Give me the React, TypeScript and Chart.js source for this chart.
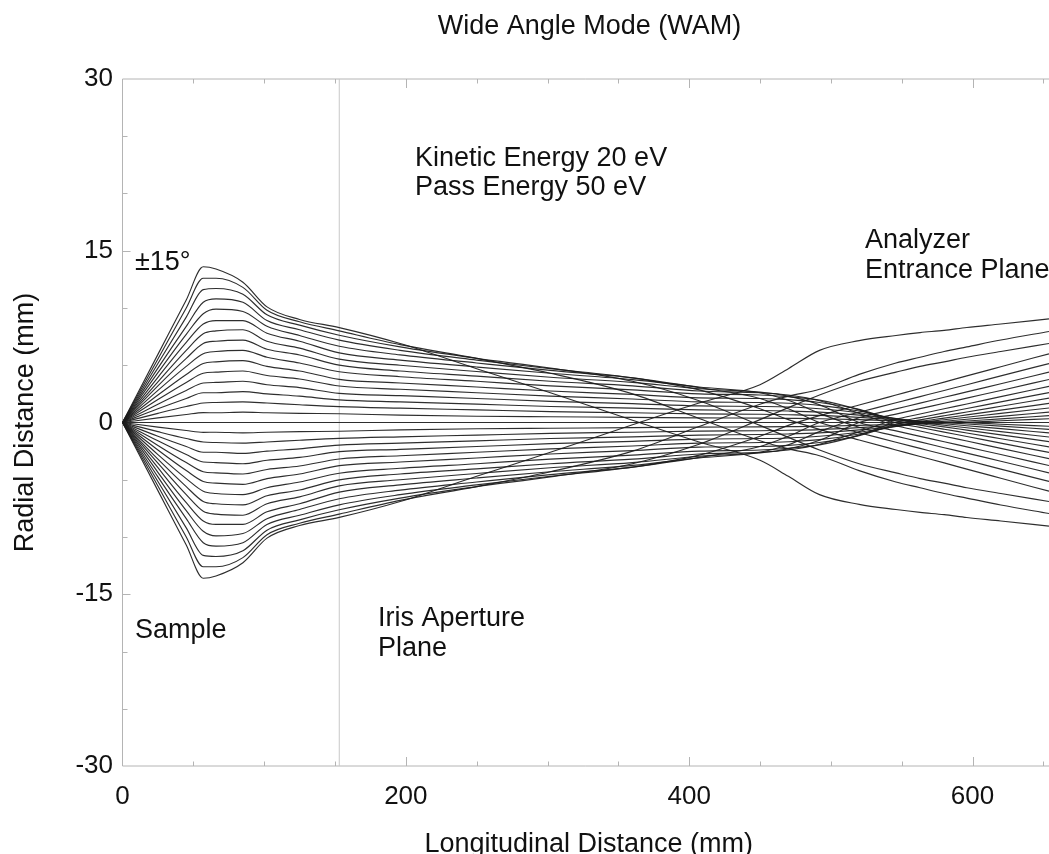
import React, { useEffect, useRef } from "react";
import { Chart, registerables } from "chart.js";

Chart.register(...registerables);

// ---- data (mm) ----
const stationsMm = [0, 25, 45, 57, 66, 85, 102, 125, 153, 196, 250, 302, 360, 407, 450, 470, 492, 520, 546, 563, 580, 596, 620, 654];

const up15 = [0, 5.95, 10.7, 13.6, 13.4, 12.25, 10.1, 9.0, 8.29, 6.9, 4.7, 2.6, 0.2, -1.7, -3.3, -4.7, -6.3, -7.15, -7.6, -7.85, -8.05, -8.3, -8.6, -9.05];
const up14 = [0, 5.55, 10.0, 12.6, 12.6, 11.8, 9.8, 8.8, 8.0, 6.8, 5.6, 4.3, 2.5, 0.35, -1.6, -2.3, -2.9, -4.2, -5.2, -5.7, -6.2, -6.6, -7.2, -7.95];
const up13 = [0, 5.15, 9.2, 11.6, 11.7, 11.2, 9.4, 8.5, 7.62, 6.6, 5.6, 4.75, 3.6, 1.9, -0.25, -1.3, -2.4, -3.6, -4.4, -4.9, -5.3, -5.7, -6.2, -6.9];
const up12 = [0, 4.75, 8.4, 10.5, 10.8, 10.5, 8.9, 8.1, 7.19, 6.3, 5.45, 4.7, 3.9, 2.85, 1.2, 0.25, -0.6, -1.53, -2.4, -2.97, -3.53, -4.07, -4.87, -6.0];
const up11 = [0, 4.35, 7.7, 9.5, 9.9, 9.7, 8.4, 7.6, 6.66, 5.9, 5.2, 4.55, 3.9, 3.05, 2.1, 1.2, 0, -0.89, -1.72, -2.26, -2.8, -3.3, -4.07, -5.15];
const up10 = [0, 3.95, 7.0, 8.6, 8.9, 8.9, 7.8, 7.1, 6.08, 5.45, 4.85, 4.3, 3.75, 3.1, 2.6, 1.95, 0.8, -0.42, -1.19, -1.69, -2.2, -2.67, -3.39, -4.4];
const up9 = [0, 3.55, 6.3, 7.75, 8.0, 8.1, 7.1, 6.5, 5.53, 5.0, 4.45, 3.95, 3.5, 2.95, 2.65, 2.3, 1.55, 0, -0.73, -1.21, -1.68, -2.13, -2.8, -3.76];
const up8 = [0, 3.2, 5.6, 6.9, 7.1, 7.2, 6.4, 5.9, 5.01, 4.5, 4.05, 3.6, 3.2, 2.75, 2.6, 2.4, 1.9, 0.8, -0.29, -0.74, -1.2, -1.62, -2.26, -3.16];
const up7 = [0, 2.8, 4.9, 6.0, 6.2, 6.3, 5.7, 5.2, 4.43, 4.0, 3.6, 3.2, 2.85, 2.5, 2.4, 2.25, 1.95, 1.1, -0.02, -0.43, -0.84, -1.22, -1.8, -2.61];
const up6 = [0, 2.4, 4.2, 5.15, 5.3, 5.4, 4.9, 4.5, 3.77, 3.45, 3.1, 2.75, 2.45, 2.15, 2.1, 2.0, 1.75, 1.15, 0.15, -0.23, -0.59, -0.92, -1.42, -2.13];
const up5 = [0, 2.0, 3.5, 4.3, 4.4, 4.5, 4.1, 3.8, 3.19, 2.9, 2.6, 2.3, 2.05, 1.8, 1.75, 1.68, 1.5, 1.0, 0.3, -0.09, -0.38, -0.66, -1.08, -1.67];
const up4 = [0, 1.6, 2.8, 3.45, 3.5, 3.6, 3.3, 3.05, 2.55, 2.35, 2.1, 1.85, 1.65, 1.45, 1.4, 1.35, 1.2, 0.85, 0.35, 0, -0.24, -0.46, -0.8, -1.27];
const up3 = [0, 1.2, 2.1, 2.6, 2.6, 2.7, 2.5, 2.3, 1.97, 1.8, 1.6, 1.4, 1.25, 1.1, 1.05, 1.0, 0.9, 0.65, 0.35, 0.1, -0.11, -0.28, -0.54, -0.9];
const up2 = [0, 0.8, 1.4, 1.7, 1.75, 1.8, 1.7, 1.55, 1.39, 1.25, 1.1, 0.95, 0.85, 0.75, 0.72, 0.68, 0.62, 0.45, 0.25, 0.12, 0, -0.13, -0.32, -0.6];
const up1 = [0, 0.4, 0.7, 0.86, 0.85, 0.9, 0.85, 0.8, 0.76, 0.65, 0.55, 0.5, 0.45, 0.4, 0.38, 0.36, 0.33, 0.25, 0.15, 0.09, 0.04, -0.02, -0.15, -0.33];
const axis0 = [0, 0, 0, 0, 0, 0, 0, 0, 0, 0, 0, 0, 0, 0, 0, 0, 0, 0, 0, 0, 0, 0, 0, 0];
const down1 = [0, -0.4, -0.7, -0.86, -0.85, -0.9, -0.85, -0.8, -0.76, -0.65, -0.55, -0.5, -0.45, -0.4, -0.38, -0.36, -0.33, -0.25, -0.15, -0.09, -0.04, 0.02, 0.15, 0.33];
const down2 = [0, -0.8, -1.4, -1.7, -1.75, -1.8, -1.7, -1.55, -1.39, -1.25, -1.1, -0.95, -0.85, -0.75, -0.72, -0.68, -0.62, -0.45, -0.25, -0.12, 0, 0.13, 0.32, 0.6];
const down3 = [0, -1.2, -2.1, -2.6, -2.6, -2.7, -2.5, -2.3, -1.97, -1.8, -1.6, -1.4, -1.25, -1.1, -1.05, -1.0, -0.9, -0.65, -0.35, -0.1, 0.11, 0.28, 0.54, 0.9];
const down4 = [0, -1.6, -2.8, -3.45, -3.5, -3.6, -3.3, -3.05, -2.55, -2.35, -2.1, -1.85, -1.65, -1.45, -1.4, -1.35, -1.2, -0.85, -0.35, 0, 0.24, 0.46, 0.8, 1.27];
const down5 = [0, -2.0, -3.5, -4.3, -4.4, -4.5, -4.1, -3.8, -3.19, -2.9, -2.6, -2.3, -2.05, -1.8, -1.75, -1.68, -1.5, -1.0, -0.3, 0.09, 0.38, 0.66, 1.08, 1.67];
const down6 = [0, -2.4, -4.2, -5.15, -5.3, -5.4, -4.9, -4.5, -3.77, -3.45, -3.1, -2.75, -2.45, -2.15, -2.1, -2.0, -1.75, -1.15, -0.15, 0.23, 0.59, 0.92, 1.42, 2.13];
const down7 = [0, -2.8, -4.9, -6.0, -6.2, -6.3, -5.7, -5.2, -4.43, -4.0, -3.6, -3.2, -2.85, -2.5, -2.4, -2.25, -1.95, -1.1, 0.02, 0.43, 0.84, 1.22, 1.8, 2.61];
const down8 = [0, -3.2, -5.6, -6.9, -7.1, -7.2, -6.4, -5.9, -5.01, -4.5, -4.05, -3.6, -3.2, -2.75, -2.6, -2.4, -1.9, -0.8, 0.29, 0.74, 1.2, 1.62, 2.26, 3.16];
const down9 = [0, -3.55, -6.3, -7.75, -8.0, -8.1, -7.1, -6.5, -5.53, -5.0, -4.45, -3.95, -3.5, -2.95, -2.65, -2.3, -1.55, 0, 0.73, 1.21, 1.68, 2.13, 2.8, 3.76];
const down10 = [0, -3.95, -7.0, -8.6, -8.9, -8.9, -7.8, -7.1, -6.08, -5.45, -4.85, -4.3, -3.75, -3.1, -2.6, -1.95, -0.8, 0.42, 1.19, 1.69, 2.2, 2.67, 3.39, 4.4];
const down11 = [0, -4.35, -7.7, -9.5, -9.9, -9.7, -8.4, -7.6, -6.66, -5.9, -5.2, -4.55, -3.9, -3.05, -2.1, -1.2, 0, 0.89, 1.72, 2.26, 2.8, 3.3, 4.07, 5.15];
const down12 = [0, -4.75, -8.4, -10.5, -10.8, -10.5, -8.9, -8.1, -7.19, -6.3, -5.45, -4.7, -3.9, -2.85, -1.2, -0.25, 0.6, 1.53, 2.4, 2.97, 3.53, 4.07, 4.87, 6.0];
const down13 = [0, -5.15, -9.2, -11.6, -11.7, -11.2, -9.4, -8.5, -7.62, -6.6, -5.6, -4.75, -3.6, -1.9, 0.25, 1.3, 2.4, 3.6, 4.4, 4.9, 5.3, 5.7, 6.2, 6.9];
const down14 = [0, -5.55, -10.0, -12.6, -12.6, -11.8, -9.8, -8.8, -8.0, -6.8, -5.6, -4.3, -2.5, -0.35, 1.6, 2.3, 2.9, 4.2, 5.2, 5.7, 6.2, 6.6, 7.2, 7.95];
const down15 = [0, -5.95, -10.7, -13.6, -13.4, -12.25, -10.1, -9.0, -8.29, -6.9, -4.7, -2.6, -0.2, 1.7, 3.3, 4.7, 6.3, 7.15, 7.6, 7.85, 8.05, 8.3, 8.6, 9.05];

const trajectories = [
  up15, up14, up13, up12, up11, up10, up9, up8, up7, up6, up5, up4, up3, up2, up1,
  axis0,
  down1, down2, down3, down4, down5, down6, down7, down8, down9, down10, down11, down12, down13, down14, down15,
];

const irisPlaneMm = 153;
const xRange = [0, 654];
const yRange = [-30, 30];
const xMajorTicks = [0, 200, 400, 600];
const xMinorStep = 50;
const yMajorTicks = [-30, -15, 0, 15, 30];
const yMinorStep = 5;

const chartTitle = "Wide Angle Mode (WAM)";
const xAxisTitle = "Longitudinal Distance (mm)";
const yAxisTitle = "Radial Distance (mm)";

const annotations = [
  { text: "±15°", x: 135, y: 269.5 },
  { text: "Kinetic Energy 20 eV", x: 415, y: 166 },
  { text: "Pass Energy 50 eV", x: 415, y: 195 },
  { text: "Analyzer", x: 865, y: 248 },
  { text: "Entrance Plane", x: 865, y: 278 },
  { text: "Sample", x: 135, y: 638 },
  { text: "Iris Aperture", x: 378, y: 626 },
  { text: "Plane", x: 378, y: 656 },
];

const FONT = '"Liberation Sans", Arial, Helvetica, sans-serif';
const AXIS_COLOR = "#b4b4b4";

const decorPlugin = {
  id: "decor",
  beforeDatasetsDraw(chart: any) {
    const { ctx, chartArea, scales } = chart;
    const xs = scales.x;
    const ys = scales.y;
    ctx.save();
    ctx.strokeStyle = AXIS_COLOR;
    ctx.lineWidth = 1;
    ctx.beginPath();
    ctx.moveTo(chartArea.left, chartArea.top);
    ctx.lineTo(chartArea.left, chartArea.bottom);
    ctx.moveTo(chartArea.left, chartArea.bottom);
    ctx.lineTo(chartArea.right, chartArea.bottom);
    ctx.moveTo(chartArea.left, chartArea.top);
    ctx.lineTo(chartArea.right, chartArea.top);
    for (let v = xRange[0] + xMinorStep; v <= xRange[1]; v += xMinorStep) {
      const px = Math.round(xs.getPixelForValue(v)) + 0.5;
      const len = xMajorTicks.includes(v) ? 9 : 4.5;
      ctx.moveTo(px, chartArea.bottom);
      ctx.lineTo(px, chartArea.bottom - len);
      ctx.moveTo(px, chartArea.top);
      ctx.lineTo(px, chartArea.top + len);
    }
    for (let v = yRange[0] + yMinorStep; v < yRange[1]; v += yMinorStep) {
      const py = Math.round(ys.getPixelForValue(v)) + 0.5;
      const len = yMajorTicks.includes(v) ? 8 : 5;
      ctx.moveTo(chartArea.left, py);
      ctx.lineTo(chartArea.left + len, py);
    }
    ctx.stroke();
    ctx.restore();
  },
  afterDraw(chart: any) {
    const { ctx, chartArea } = chart;
    ctx.save();
    ctx.fillStyle = "#111";
    ctx.textBaseline = "alphabetic";
    ctx.font = `27px ${FONT}`;
    ctx.textAlign = "center";
    ctx.fillText(chartTitle, 589.5, 34);
    ctx.fillText(xAxisTitle, (chartArea.left + chartArea.right) / 2 + 3, 852);
    ctx.save();
    ctx.translate(33, (chartArea.top + chartArea.bottom) / 2);
    ctx.rotate(-Math.PI / 2);
    ctx.fillText(yAxisTitle, 0, 0);
    ctx.restore();
    ctx.textAlign = "left";
    for (const a of annotations) ctx.fillText(a.text, a.x, a.y);
    ctx.restore();
  },
};

export default function App() {
  const ref = useRef<HTMLCanvasElement | null>(null);
  useEffect(() => {
    if (!ref.current) return;
    const lineDatasets = trajectories.map((ys, i) => ({
      label: `traj${i}`,
      data: stationsMm.map((x, j) => ({ x, y: ys[j] })),
      borderColor: "rgba(28,28,28,0.92)",
      borderWidth: 1.15,
      pointRadius: 0,
      fill: false,
      cubicInterpolationMode: "monotone" as const,
      order: 0,
    }));
    const irisDataset = {
      label: "iris",
      data: [
        { x: irisPlaneMm, y: yRange[0] },
        { x: irisPlaneMm, y: yRange[1] },
      ],
      borderColor: "#c8c8c8",
      borderWidth: 1,
      pointRadius: 0,
      fill: false,
      order: 5,
    };
    const chart = new Chart(ref.current, {
      type: "line",
      data: { datasets: [...lineDatasets, irisDataset] as any },
      options: {
        responsive: false,
        animation: false,
        devicePixelRatio: 1,
        layout: { padding: { top: 79, left: 0, right: 0, bottom: 0 } },
        plugins: {
          legend: { display: false },
          tooltip: { enabled: false },
          title: { display: false },
        },
        scales: {
          x: {
            type: "linear",
            min: xRange[0],
            max: xRange[1],
            afterFit: (s: any) => {
              s.height = 88;
              s.paddingLeft = 0;
              s.paddingRight = 0;
            },
            grid: { display: false, drawTicks: false },
            border: { display: false },
            ticks: {
              stepSize: 200,
              autoSkip: false,
              maxRotation: 0,
              padding: 15,
              color: "#111",
              font: { family: FONT, size: 26 },
              callback: (v: any) => (xMajorTicks.includes(Number(v)) ? String(v) : ""),
            },
          },
          y: {
            type: "linear",
            min: yRange[0],
            max: yRange[1],
            afterFit: (s: any) => {
              s.width = 122.5;
              s.paddingTop = 0;
              s.paddingBottom = 0;
            },
            grid: { display: false, drawTicks: false },
            border: { display: false },
            ticks: {
              stepSize: 15,
              autoSkip: false,
              padding: 9.5,
              color: "#111",
              font: { family: FONT, size: 26 },
              callback: (v: any) => (yMajorTicks.includes(Number(v)) ? String(v) : ""),
            },
          },
        },
      },
      plugins: [decorPlugin],
    });
    return () => chart.destroy();
  }, []);
  return (
    <div style={{ position: "absolute", left: 0, top: 0, width: 1049, height: 854, background: "#fff" }}>
      <canvas ref={ref} width={1049} height={854} style={{ display: "block" }} />
    </div>
  );
}
